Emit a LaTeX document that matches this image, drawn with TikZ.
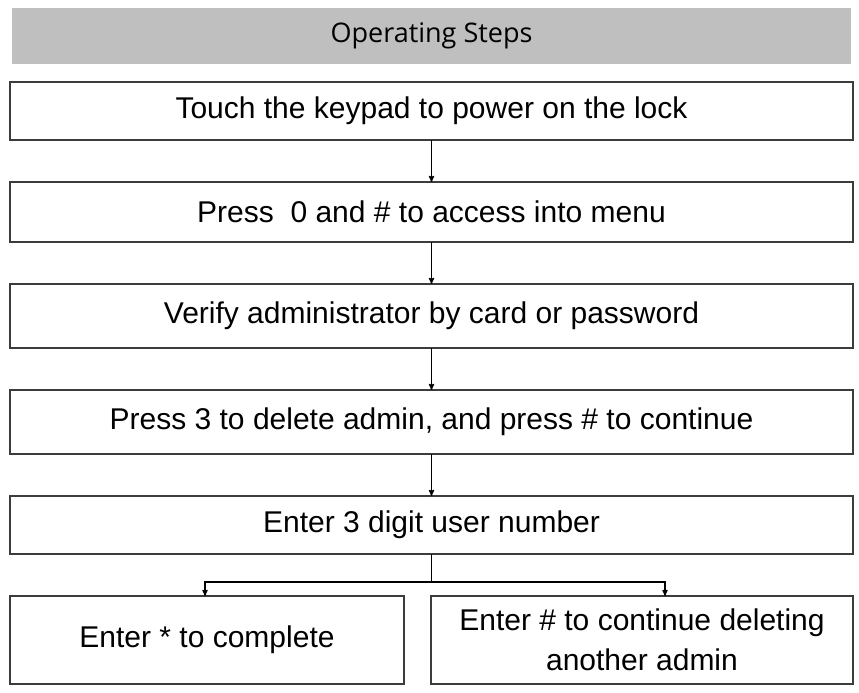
\documentclass[tikz,border=0pt]{standalone}
\usepackage{fontspec}
\setmainfont{Liberation Sans}
\newfontfamily\headfont{Open Sans}
\usepackage{tikz}
\usetikzlibrary{positioning}
\usetikzlibrary{arrows}

\definecolor{headgray}{RGB}{191,191,191}
\definecolor{linegray}{RGB}{60,60,60}

\tikzset{
  headbar/.style={fill=headgray,minimum width=839pt,minimum height=56pt,
    inner sep=0pt,outer sep=0pt,font=\headfont\fontsize{27}{32}\selectfont},
  stepbox/.style={draw=linegray,line width=1.6pt,minimum width=843pt,
    minimum height=59pt,inner sep=0pt,outer sep=0pt,font=\fontsize{30}{35}\selectfont},
  endbox/.style={stepbox,minimum height=88pt,align=center,font=\fontsize{30}{40}\selectfont}
}

\begin{document}
\begin{tikzpicture}[>=stealth',node distance=42pt,every path/.style={line width=1.2pt}]
  \useasboundingbox (0,0) rectangle (859pt,-693pt);

  \node[headbar] (Head) at (431.5pt,-36pt) {Operating Steps};
  \node[stepbox,minimum height=58pt] (Touch)  [below=18pt of Head] {Touch the keypad to power on the lock};
  \node[stepbox,minimum height=60pt] (Menu)   [below=of Touch]     {Press \ 0 and \# to access into menu};
  \node[stepbox,minimum height=64pt] (Verify) [below=of Menu]      {Verify administrator by card or password};
  \node[stepbox,minimum height=64pt] (Delete) [below=of Verify]    {Press 3 to delete admin, and press \# to continue};
  \node[stepbox,minimum height=58pt] (Number) [below=of Delete]    {Enter 3 digit user number};
  \node[endbox,minimum width=394pt] (Done) [below=of Number.south west,anchor=north west]
     {Enter * to complete};
  \node[endbox,minimum width=422pt] (Again) [below=of Number.south east,anchor=north east]
     {Enter \# to continue deleting\\another admin};

  \draw[->] (Touch) -- (Menu);
  \draw[->] (Menu) -- (Verify);
  \draw[->] (Verify) -- (Delete);
  \draw[->] (Delete) -- (Number);

  % split to the two endings
  \draw (Number.south) -- ++(0,-28pt) coordinate (split);
  \draw[->] (split) -| ([xshift=-2pt]Done.north);
  \draw[->] (split) -| ([xshift=23pt]Again.north);
\end{tikzpicture}
\end{document}
